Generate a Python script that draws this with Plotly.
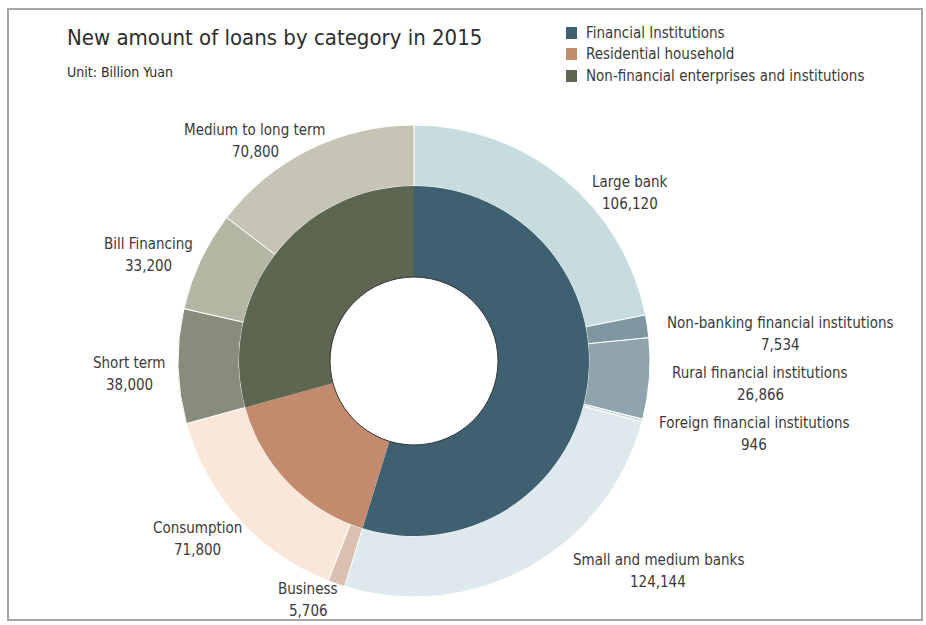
import plotly.graph_objects as go

# ---- data (billion yuan) ----
groups = ["Financial Institutions", "Residential household",
          "Non-financial enterprises and institutions"]

fin_labels = ["Large bank", "Non-banking financial institutions",
              "Rural financial institutions", "Foreign financial institutions",
              "Small and medium banks"]
fin_values = [106120, 7534, 26866, 946, 124144]

house_labels = ["Business", "Consumption"]
house_values = [5706, 71800]

corp_labels = ["Short term", "Bill Financing", "Medium to long term"]
corp_values = [38000, 33200, 70800]

# ---- styling ----
group_colors = ["#3e6071", "#c38a6e", "#5c6650"]
fin_colors = ["#c6dcdf", "#7e97a1", "#8fa4ac", "#c9dcdf", "#dde9ec"]
house_colors = ["#d9c0b1", "#fbe7da"]
corp_colors = ["#888c7a", "#b4b5a3", "#c6c4b5"]

FONT = "Liberation Sans Narrow, DejaVu Sans Condensed, Arial Narrow, sans-serif"
TXT = "#3a3a3a"
W, H = 926, 625

# pie geometry in pixels (centre measured from the top-left)
cx, cy = 414, 361
r_outer, r_mid, r_hole = 236, 175, 84


def dom(r):
    return dict(x=[(cx - r) / W, (cx + r) / W],
                y=[(H - cy - r) / H, (H - cy + r) / H])


outer_labels = fin_labels + house_labels + corp_labels
outer_values = fin_values + house_values + corp_values
outer_colors = fin_colors + house_colors + corp_colors

inner_values = [sum(fin_values), sum(house_values), sum(corp_values)]

fig = go.Figure()
fig.add_trace(go.Pie(
    labels=outer_labels, values=outer_values, sort=False,
    direction="clockwise", rotation=0, hole=r_mid / r_outer,
    domain=dom(r_outer), textinfo="none", hoverinfo="label+value",
    marker=dict(colors=outer_colors, line=dict(color="white", width=1)),
    showlegend=False,
))
fig.add_trace(go.Pie(
    labels=groups, values=inner_values, sort=False,
    direction="clockwise", rotation=0, hole=r_hole / r_mid,
    domain=dom(r_mid), textinfo="none", hoverinfo="label+value",
    marker=dict(colors=group_colors, line=dict(width=0)),
    showlegend=False,
))

# label placements (pixel centres) for each outer slice
label_pos = {
    "Large bank": (630, 193),
    "Non-banking financial institutions": (780, 334),
    "Rural financial institutions": (760, 384),
    "Foreign financial institutions": (754, 434),
    "Small and medium banks": (658, 571),
    "Business": (308, 600),
    "Consumption": (197, 539),
    "Short term": (129, 374),
    "Bill Financing": (148, 255),
    "Medium to long term": (255, 141),
}


def txt(x, y, s, size, anchor="center", color=TXT):
    return dict(x=x / W, y=1 - y / H, xref="paper", yref="paper",
                xanchor=anchor, yanchor="middle", showarrow=False, text=s,
                font=dict(family=FONT, size=size, color=color))


annotations = []
for lab, val in zip(outer_labels, outer_values):
    px, py = label_pos[lab]
    annotations.append(txt(px, py - 11, lab, 15))
    annotations.append(txt(px, py + 11, f"{val:,}", 15))

# title and unit
annotations.append(txt(65, 38, "New amount of loans by category in 2015", 22,
                       "left", "#2e2e2e"))
annotations.append(txt(65, 72, "Unit: Billion Yuan", 14, "left", "#2e2e2e"))

shapes = []
# legend for the inner ring
leg_y = [33, 54, 76]
for g, c, ly in zip(groups, group_colors, leg_y):
    shapes.append(dict(type="rect", xref="paper", yref="paper",
                       x0=566 / W, x1=577 / W,
                       y0=1 - (ly + 6) / H, y1=1 - (ly - 6) / H,
                       fillcolor=c, line=dict(width=0)))
    annotations.append(txt(584, ly, g, 15, "left"))

# thin outline round the centre hole
shapes.append(dict(type="circle", xref="paper", yref="paper",
                   x0=(cx - r_hole) / W, x1=(cx + r_hole) / W,
                   y0=1 - (cy + r_hole) / H, y1=1 - (cy - r_hole) / H,
                   line=dict(color="#333333", width=1)))
# outer frame
shapes.append(dict(type="rect", xref="paper", yref="paper",
                   x0=8 / W, x1=922 / W, y0=1 - 620 / H, y1=1 - 9 / H,
                   line=dict(color="#a6a6a6", width=2)))

fig.update_layout(
    width=W, height=H, margin=dict(l=0, r=0, t=0, b=0),
    paper_bgcolor="white", plot_bgcolor="white",
    annotations=annotations, shapes=shapes,
)

fig.write_html("out.html")
